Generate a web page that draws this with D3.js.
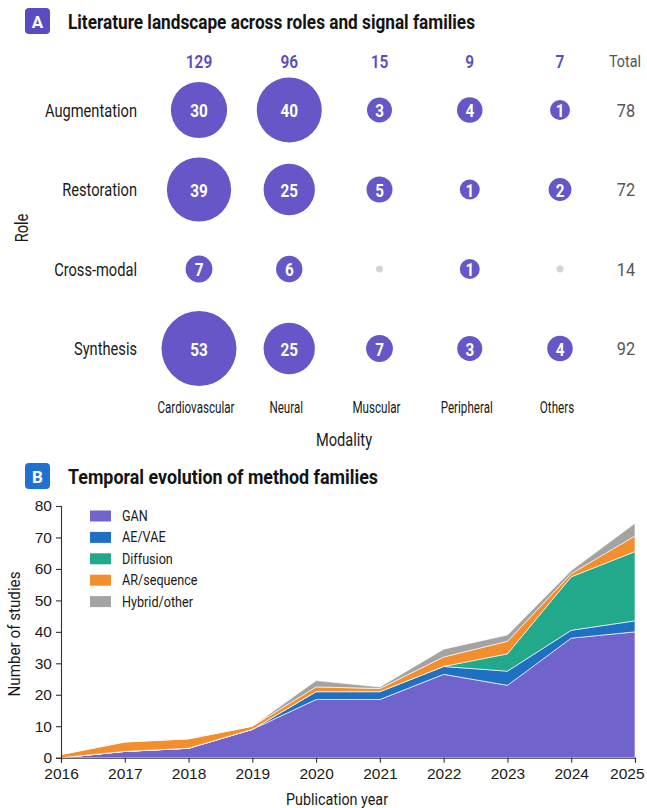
<!DOCTYPE html>
<html><head><meta charset="utf-8">
<script src="https://cdn.jsdelivr.net/npm/d3@7"></script>
<style>
html,body{margin:0;padding:0;background:#fff;}
svg{display:block;font-family:Roboto,"Noto Sans",sans-serif;}
</style></head><body>
<svg id="chart" width="647" height="808"></svg>
<script>
// ---------- Panel A data ----------
const roles = ["Augmentation", "Restoration", "Cross-modal", "Synthesis"];
const modalities = ["Cardiovascular", "Neural", "Muscular", "Peripheral", "Others"];
const augmentation = [30, 40, 3, 4, 1];
const restoration = [39, 25, 5, 1, 2];
const crossModal = [7, 6, 0, 1, 0];
const synthesis = [53, 25, 7, 3, 4];
const roleCounts = [augmentation, restoration, crossModal, synthesis];

// ---------- Panel B data ----------
const years = [2016, 2017, 2018, 2019, 2020, 2021, 2022, 2023, 2024, 2025];
const families = ["GAN", "AE/VAE", "Diffusion", "AR/sequence", "Hybrid/other"];
const gan = [0, 2, 3, 9, 18.5, 18.5, 26.5, 23, 38, 40];
const aeVae = [0, 0, 0, 0, 2.5, 2.5, 2.5, 4.5, 2.5, 3.5];
const diffusion = [0, 0, 0, 0, 0, 0, 0, 5.5, 17, 22];
const arSequence = [1, 3, 3, 1, 1.5, 1, 3, 4, 1, 5];
const hybrid = [0, 0, 0, 0, 2, 0.5, 2.5, 2, 1, 4];
const yTicks = [0, 10, 20, 30, 40, 50, 60, 70, 80];

const familyColors = ["#7163cc", "#1f6fc2", "#22a98b", "#f28e2b", "#a3a3a3"];

const svg = d3.select("#chart");

// width-fitting helpers (emulate the condensed face of the original)
function ratioFor(str, size, weight, target) {
  const t = svg.append("text").attr("font-size", size).attr("font-weight", weight).text(str);
  const w = t.node().getComputedTextLength();
  t.remove();
  return target / w;
}
function condense(sel, k) {
  sel.each(function () {
    const w = this.getComputedTextLength();
    d3.select(this).attr("textLength", w * k).attr("lengthAdjust", "spacingAndGlyphs");
  });
  return sel;
}

function badge(x, y, letter, color) {
  svg.append("rect").attr("x", x).attr("y", y).attr("width", 25).attr("height", 26)
    .attr("rx", 4).attr("fill", color);
  svg.append("text").attr("x", x + 12.5).attr("y", y + 13.5)
    .attr("text-anchor", "middle").attr("dominant-baseline", "central")
    .attr("fill", "#fff").attr("font-weight", "bold").attr("font-size", 17).text(letter);
}

const kLabel = ratioFor("Augmentation", 18, 400, 92);
const kSmall = ratioFor("Cardiovascular", 16.5, 400, 77);
const kNum = ratioFor("129", 18, 600, 26.5);
const kPlain = ratioFor("78", 18, 400, 18.3);
const kBold = ratioFor("30", 18, 700, 17.5);

// ---------- Panel A ----------
badge(25, 8, "A", "#5a4bc3");
const tA = svg.append("text").attr("x", 68).attr("y", 28.5).attr("font-size", 20)
  .attr("font-weight", "bold").attr("fill", "#141414")
  .text("Literature landscape across roles and signal families");
condense(tA, ratioFor(tA.text(), 20, 700, 407));

const xCol = d3.scalePoint().domain(modalities).range([199, 560]);
const totalX = 626;
const yRow = d3.scalePoint().domain(roles).range([110, 348.5]);
const rScale = d3.scaleSqrt().domain([1, 3, 7, 53]).range([10, 12.5, 13.4, 37.5]);

const colTotals = modalities.map((m, j) => d3.sum(roleCounts, r => r[j]));
const rowTotals = roleCounts.map(r => d3.sum(r));

const headY = 61;
condense(svg.append("g").selectAll("text").data(modalities).join("text")
  .attr("x", d => xCol(d)).attr("y", headY)
  .attr("text-anchor", "middle").attr("dominant-baseline", "central")
  .attr("font-size", 18).attr("font-weight", 600).attr("fill", "#5a4bc3")
  .text((d, j) => colTotals[j]), kNum);
condense(svg.append("text").attr("x", totalX - 1).attr("y", headY)
  .attr("text-anchor", "middle").attr("dominant-baseline", "central")
  .attr("font-size", 16.5).attr("fill", "#555").text("Total"),
  ratioFor("Total", 16.5, 400, 32));

roles.forEach((role, i) => {
  const cy = yRow(role);
  condense(svg.append("text").attr("x", 137).attr("y", cy)
    .attr("text-anchor", "end").attr("dominant-baseline", "central")
    .attr("font-size", 18).attr("fill", "#1a1a1a").text(role), kLabel);
  const g = svg.append("g");
  modalities.forEach((m, j) => {
    const v = roleCounts[i][j];
    if (v > 0) {
      g.append("circle").attr("cx", xCol(m)).attr("cy", cy).attr("r", rScale(v))
        .attr("fill", "#6656c7");
      condense(g.append("text").attr("x", xCol(m)).attr("y", cy + 0.5)
        .attr("text-anchor", "middle").attr("dominant-baseline", "central")
        .attr("font-size", 18).attr("font-weight", "bold").attr("fill", "#fff").text(v), kBold);
    } else {
      g.append("circle").attr("cx", xCol(m)).attr("cy", cy).attr("r", 3.5)
        .attr("fill", "#d4d4d4");
    }
  });
  condense(svg.append("text").attr("x", totalX).attr("y", cy)
    .attr("text-anchor", "middle").attr("dominant-baseline", "central")
    .attr("font-size", 18).attr("fill", "#555").text(rowTotals[i]), kPlain);
});

condense(svg.append("g").selectAll("text").data(modalities).join("text")
  .attr("x", d => xCol(d) - 3).attr("y", 407)
  .attr("text-anchor", "middle").attr("dominant-baseline", "central")
  .attr("font-size", 16.5).attr("fill", "#1a1a1a").text(d => d), kSmall);
condense(svg.append("text").attr("x", 344).attr("y", 439)
  .attr("text-anchor", "middle").attr("dominant-baseline", "central")
  .attr("font-size", 18).attr("fill", "#1a1a1a").text("Modality"), kLabel);
condense(svg.append("text").attr("transform", "translate(21,228) rotate(-90)")
  .attr("text-anchor", "middle").attr("dominant-baseline", "central")
  .attr("font-size", 18).attr("fill", "#1a1a1a").text("Role"), kLabel);

// ---------- Panel B ----------
badge(25, 463, "B", "#1f72cf");
const tB = svg.append("text").attr("x", 68).attr("y", 483.5).attr("font-size", 20)
  .attr("font-weight", "bold").attr("fill", "#141414")
  .text("Temporal evolution of method families");
condense(tB, ratioFor(tB.text(), 20, 700, 310));

const x = d3.scaleLinear().domain([2016, 2025]).range([61, 635]);
const y = d3.scaleLinear().domain([0, 80]).range([757.7, 506]);

const seriesArrays = [gan, aeVae, diffusion, arSequence, hybrid];
const table = years.map((yr, k) => {
  const row = { year: yr };
  families.forEach((f, s) => row[f] = seriesArrays[s][k]);
  return row;
});
const stack = d3.stack().keys(families)(table);
const area = d3.area().x(d => x(d.data.year)).y0(d => y(d[0])).y1(d => y(d[1]));

svg.append("g").selectAll("path").data(stack).join("path")
  .attr("d", area).attr("fill", (d, i) => familyColors[i])
  .attr("stroke", "#fff").attr("stroke-width", 0.8).attr("stroke-opacity", 0.8);

const yAxis = svg.append("g").attr("transform", "translate(61,0)")
  .call(d3.axisLeft(y).tickValues(yTicks).tickSize(5).tickPadding(4));
const xAxis = svg.append("g").attr("transform", "translate(0,757.7)")
  .call(d3.axisBottom(x).tickValues(years).tickFormat(d3.format("d")).tickSize(5).tickPadding(5));
[yAxis, xAxis].forEach(a => {
  a.selectAll("path,line").attr("stroke", "#333").attr("stroke-width", 1.1);
  a.selectAll("text").attr("font-size", 15.5).attr("fill", "#1a1a1a");
});
// keep the last year label inside the frame, as in the original
xAxis.selectAll(".tick").filter(d => d === years[years.length - 1])
  .select("text").attr("text-anchor", "end").attr("dx", 9);

condense(svg.append("text").attr("x", 337).attr("y", 799)
  .attr("text-anchor", "middle").attr("dominant-baseline", "central")
  .attr("font-size", 16.5).attr("fill", "#1a1a1a").text("Publication year"),
  ratioFor("Publication year", 16.5, 400, 102));
condense(svg.append("text").attr("transform", "translate(14,634) rotate(-90)")
  .attr("text-anchor", "middle").attr("dominant-baseline", "central")
  .attr("font-size", 16.5).attr("fill", "#1a1a1a").text("Number of studies"),
  ratioFor("Number of studies", 16.5, 400, 125));

const kLegend = ratioFor("Hybrid/other", 15.5, 400, 71);
const legend = svg.append("g");
families.forEach((f, i) => {
  const ly = 516 + i * 21.4;
  legend.append("rect").attr("x", 90).attr("y", ly - 5.5).attr("width", 21).attr("height", 11)
    .attr("fill", familyColors[i]);
  condense(legend.append("text").attr("x", 122).attr("y", ly)
    .attr("dominant-baseline", "central").attr("font-size", 15.5).attr("fill", "#1a1a1a").text(f), kLegend);
});
</script>
</body></html>
